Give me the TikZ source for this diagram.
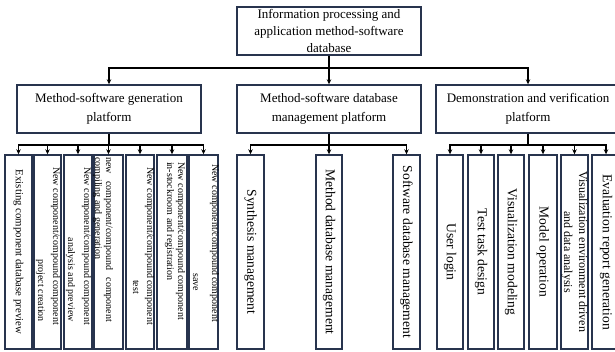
\documentclass[tikz,border=0pt]{standalone}
\usepackage{fontspec}
\setmainfont{Liberation Serif}
\usetikzlibrary{arrows.meta}
\definecolor{boxc}{RGB}{40,52,78}
\begin{document}
\begin{tikzpicture}[x=1pt,y=-1pt,
  box/.style={draw=boxc, line width=1.4pt, inner sep=0pt, align=center},
  bigbox/.style={box, minimum width=184pt, minimum height=48pt},
  leafbox/.style={box, minimum height=194pt},
  conn/.style={line width=1.3pt, black},
  arr/.style={conn, -{Stealth[length=5pt,width=4.5pt]}},
  lt/.style={rotate=-90, inner sep=0pt, font=\fontsize{10}{12}\selectfont},
  ls/.style={lt, anchor=base west},
  le/.style={lt, anchor=base east},
  mt/.style={rotate=-90, inner sep=0pt, align=center, font=\fontsize{13.6}{16}\selectfont},
]
\useasboundingbox (0,0) rectangle (615,352);
\clip (0,0) rectangle (615,352);

% top and level-2 boxes
\node[bigbox, font=\fontsize{13}{17}\selectfont] (top) at (329,31) {Information processing and\\application method-software\\database};
\node[bigbox, font=\fontsize{13}{18.5}\selectfont] (L) at (109,109) {Method-software generation\\platform};
\node[bigbox, font=\fontsize{13}{18.5}\selectfont] (M) at (329,109) {Method-software database\\management platform};
\node[bigbox, font=\fontsize{13}{18.5}\selectfont] (R) at (528,109) {Demonstration and verification\\platform};

\coordinate (b0) at (329,68);
\draw[conn] (top.south) -- (b0);
\draw[arr] (b0) -| (L.north);
\draw[arr] (b0) -| (R.north);
\draw[arr] (b0) -- (M.north);

% leaf boxes
\foreach \n/\c/\w in {L1/18.5/27, L2/47.5/27, L3/78/28, L4/108.5/29, L5/140/28, L6/172/30, L7/203.5/29,
                     M1/250.5/27, M2/329/26, M3/406.5/27,
                     R1/450/26, R2/481/26, R3/511/26, R4/543/28, R5/574.5/27, R6/606/28}
  \node[leafbox, minimum width=\w pt] (\n) at (\c,252) {};

% buses
\coordinate (bL) at (109,145);
\coordinate (bM) at (329,145);
\coordinate (bR) at (528,145);
\draw[conn] (L.south) -- (bL);
\draw[conn] (M.south) -- (bM);
\draw[conn] (R.south) -- (bR);
\foreach \n in {L1,L2,L3,L4,L5,L6,L7} \draw[arr] (bL) -| (\n.north);
\foreach \n in {M1,M2,M3} \draw[arr] (bM) -| (\n.north);
\foreach \n in {R1,R2,R3,R4,R5,R6} \draw[arr] (bR) -| (\n.north);

% left leaf texts
\node[lt, font=\fontsize{10.8}{13}\selectfont] (t1) at (L1.center) {Existing component database preview};
\node[ls] (t2a) at (53,167) {New component/compound component};
\node[le] (t2b) at (38,322) {project creation};
\node[ls] (t3a) at (84,167) {New component/compound component};
\node[le] (t3b) at (68,322) {analysis and preview};
\node[ls] (t4a) at (106,157) {\makebox[165pt][s]{new component/compound component}};
\node[ls] (t4b) at (95,157) {compiling and generation};
\node[ls] (t5a) at (147,167) {New component/compound component};
\node[ls] (t5b) at (133,280) {test};
\node[ls] (t6a) at (178,162) {New component/compound component};
\node[ls] (t6b) at (167,162) {in-stockroom and registration};
\node[ls] (t7a) at (212,164) {New component/compound component};
\node[ls] (t7b) at (193,273) {save};

% middle leaf texts
\node[mt] (t8) at (M1.center) {Synthesis management};
\node[mt] (t9) at (M2.center) {Method database management};
\node[mt] (t10) at (M3.center) {Software database management};

% right leaf texts
\node[mt] (t11) at (R1.center) {User login};
\node[mt] (t12) at (R2.center) {Test task design};
\node[mt] (t13) at (R3.center) {Visualization modeling};
\node[mt] (t14) at (R4.center) {Model operation};
\node[mt, font=\fontsize{12}{15}\selectfont] (t15) at (R5.center) {Visualization environment driven\\and data analysis};
\node[mt] (t16) at (R6.center) {Evaluation report generation};
\end{tikzpicture}
\end{document}
